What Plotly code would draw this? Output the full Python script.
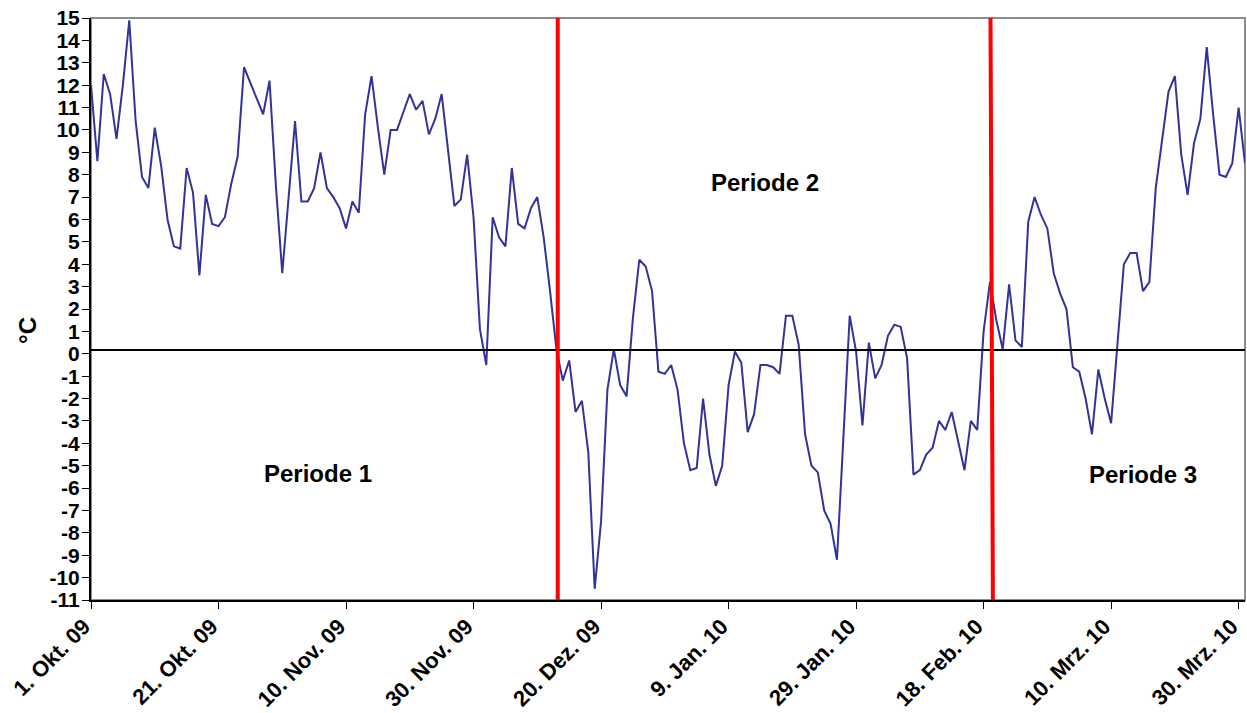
import pandas as pd
import plotly.graph_objects as go

# ---- data ----
start_date = "2009-10-01"
n_days = 182
temps = [
    12.0, 8.6, 12.5, 11.6, 9.6, 12.0, 14.9, 10.4, 7.9, 7.4,
    10.1, 8.4, 6.0, 4.8, 4.7, 8.3, 7.2, 3.5, 7.1, 5.8,
    5.7, 6.1, 7.6, 8.8, 12.8, 12.1, 11.4, 10.7, 12.2, 7.5,
    3.6, 7.0, 10.4, 6.8, 6.8, 7.4, 9.0, 7.4, 7.0, 6.5,
    5.6, 6.8, 6.3, 10.7, 12.4, 10.1, 8.0, 10.0, 10.0, 10.8,
    11.6, 10.9, 11.3, 9.8, 10.5, 11.6, 9.0, 6.6, 6.9, 8.9,
    6.1, 1.1, -0.5, 6.1, 5.2, 4.8, 8.3, 5.8, 5.6, 6.5,
    7.0, 5.2, 2.8, 0.2, -1.2, -0.3, -2.6, -2.1, -4.4, -10.5,
    -7.5, -1.6, 0.2, -1.4, -1.9, 1.6, 4.2, 3.9, 2.8, -0.8,
    -0.9, -0.5, -1.6, -4.0, -5.2, -5.1, -2.0, -4.5, -5.9, -5.0,
    -1.4, 0.1, -0.4, -3.5, -2.7, -0.5, -0.5, -0.6, -0.9, 1.7,
    1.7, 0.4, -3.6, -5.0, -5.3, -7.0, -7.6, -9.2, -3.8, 1.7,
    0.1, -3.2, 0.5, -1.1, -0.5, 0.8, 1.3, 1.2, -0.2, -5.4,
    -5.2, -4.5, -4.2, -3.0, -3.4, -2.6, -3.9, -5.2, -3.0, -3.4,
    1.0, 3.2, 1.5, 0.2, 3.1, 0.6, 0.3, 5.9, 7.0, 6.2,
    5.6, 3.6, 2.7, 2.0, -0.6, -0.8, -2.0, -3.6, -0.7, -2.0,
    -3.1, 0.3, 4.0, 4.5, 4.5, 2.8, 3.2, 7.4, 9.5, 11.7,
    12.4, 8.9, 7.1, 9.4, 10.5, 13.7, 10.7, 8.0, 7.9, 8.5,
    11.0, 8.5,
]
dates = pd.date_range(start_date, periods=n_days, freq="D")

tick_dates = ["2009-10-01", "2009-10-21", "2009-11-10", "2009-11-30", "2009-12-20",
              "2010-01-09", "2010-01-29", "2010-02-18", "2010-03-10", "2010-03-30"]
tick_labels = ["1. Okt. 09", "21. Okt. 09", "10. Nov. 09", "30. Nov. 09", "20. Dez. 09",
               "9. Jan. 10", "29. Jan. 10", "18. Feb. 10", "10. Mrz. 10", "30. Mrz. 10"]
y_ticks = list(range(-11, 16))

period_bounds = [("2009-12-13 05:00", "2009-12-13 05:00"),
                 ("2010-02-19 02:00", "2010-02-19 11:00")]
ref_level = 0.17
period_labels = ["Periode 1", "Periode 2", "Periode 3"]

FONT = "Arial, 'Liberation Sans', sans-serif"

fig = go.Figure()
fig.add_trace(go.Scatter(
    x=dates, y=temps, mode="lines",
    line=dict(color="#333399", width=2),
    showlegend=False, hoverinfo="x+y",
))

shapes = []
shapes.append(dict(type="rect", xref="paper", yref="paper", x0=0, x1=1, y0=0, y1=1,
                   line=dict(color="#8c8c8c", width=2), layer="below"))
shapes.append(dict(type="line", xref="paper", yref="y", x0=0, x1=1, y0=ref_level, y1=ref_level,
                   line=dict(color="black", width=2), layer="above"))
for top, bottom in period_bounds:
    shapes.append(dict(type="line", xref="x", yref="paper", x0=bottom, x1=top, y0=0, y1=1,
                       line=dict(color="#ff0000", width=4), layer="above"))

annotations = []
for text, (ax, ay) in zip(period_labels, [(0.197, 0.2165), (0.584, 0.7165), (0.912, 0.2148)]):
    annotations.append(dict(text=f"<b>{text}</b>", xref="paper", yref="paper", x=ax, y=ay,
                            showarrow=False, font=dict(family=FONT, size=24, color="black"),
                            xanchor="center", yanchor="middle"))
annotations.append(dict(text="<b>°C</b>", xref="paper", yref="paper", x=-0.0546, y=0.464,
                        textangle=-90, showarrow=False,
                        font=dict(family=FONT, size=24, color="black"),
                        xanchor="center", yanchor="middle"))

fig.update_layout(
    width=1247, height=713,
    margin=dict(l=91, r=2, t=18, b=113),
    paper_bgcolor="white", plot_bgcolor="white",
    font=dict(family=FONT, color="black"),
    shapes=shapes, annotations=annotations,
    xaxis=dict(
        type="date", range=["2009-10-01", "2010-03-31"],
        tickmode="array", tickvals=tick_dates,
        ticktext=[f"<b>{t}</b>" for t in tick_labels],
        tickangle=-45, tickfont=dict(family=FONT, size=22, color="black"),
        ticklabeloverflow="allow", ticklabelshift=-7, ticklabelstandoff=-4,
        automargin=False,
        showgrid=False, zeroline=False,
        showline=True, linecolor="black", linewidth=2,
        ticks="outside", ticklen=7, tickcolor="black", tickwidth=1,
    ),
    yaxis=dict(
        range=[-11, 15], tickmode="array", tickvals=y_ticks,
        ticktext=[f"<b>{v}</b>" for v in y_ticks],
        tickfont=dict(family=FONT, size=21, color="black"),
        ticklabeloverflow="allow", automargin=False,
        showgrid=False, zeroline=False,
        showline=True, linecolor="black", linewidth=2,
        ticks="outside", ticklen=7, tickcolor="black", tickwidth=1,
        ticklabelstandoff=-2,
    ),
)

fig.write_html("out.html")
